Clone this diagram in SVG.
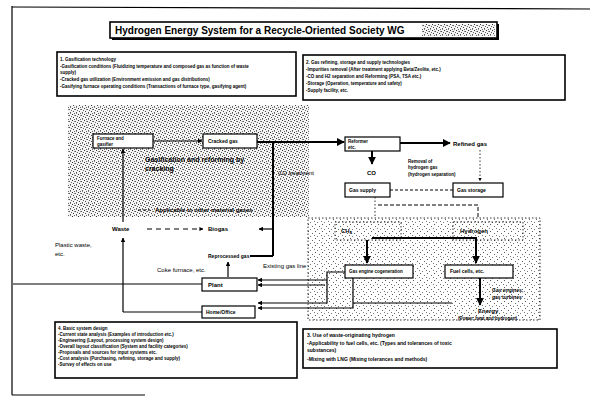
<svg xmlns="http://www.w3.org/2000/svg" width="596" height="397" viewBox="0 0 596 397">
<style>
text{font-family:"Liberation Sans",Arial,sans-serif;fill:#000}
.t45{font-size:4.5px;font-weight:bold}
.t5{font-size:5px;font-weight:bold}
.t6{font-size:6px}
.b{font-weight:bold}
.box{fill:#fff;stroke:#000;stroke-width:1.2}
.nb{fill:#fff;stroke:#000;stroke-width:1.6}
.ln{fill:none;stroke:#000;stroke-width:1.2}
.thk{fill:none;stroke:#000;stroke-width:2}
.dash{fill:none;stroke:#000;stroke-width:1;stroke-dasharray:5 4}
.dot{fill:none;stroke:#000;stroke-width:0.8;stroke-dasharray:1.5 2}
</style>
<defs>
<pattern id="st" width="6" height="6" patternUnits="userSpaceOnUse">
<rect width="6" height="6" fill="#f4f4f4"/>
<rect x="0" y="0" width="1" height="1" fill="#333"/>
<rect x="3" y="1" width="1" height="1" fill="#555"/>
<rect x="1" y="3" width="1" height="1" fill="#444"/>
<rect x="4" y="4" width="1" height="1" fill="#555"/>
<rect x="5" y="2" width="1" height="1" fill="#666"/>
<rect x="2" y="5" width="1" height="1" fill="#666"/>
<rect x="2" y="1" width="1" height="1" fill="#888"/>
<rect x="4" y="5" width="1" height="1" fill="#888"/>
</pattern>
<pattern id="st2" width="7" height="7" patternUnits="userSpaceOnUse">
<rect width="7" height="7" fill="#fff"/>
<rect x="0" y="0" width="1" height="1" fill="#555"/>
<rect x="4" y="2" width="1" height="1" fill="#666"/>
<rect x="2" y="5" width="1" height="1" fill="#777"/>
<rect x="6" y="4" width="1" height="1" fill="#777"/>
</pattern>
<marker id="ah" viewBox="0 0 10 10" refX="9" refY="5" markerWidth="4" markerHeight="4" orient="auto-start-reverse">
<path d="M0,0 L10,5 L0,10 z" fill="#000"/>
</marker>
</defs>
<rect width="596" height="397" fill="#fff"/>
<g id="frame">
<path d="M12,6 V395" class="ln"/>
<path d="M12,7 L590,9" class="ln"/>
<path d="M12,395 H145" class="ln"/>
</g>
<g id="title">
<rect x="112" y="24" width="387" height="16" fill="#000"/>
<rect x="110" y="22" width="387" height="16" class="nb"/>
<rect x="422" y="24" width="73" height="12" fill="url(#st)"/>
<text x="115" y="34" class="b" style="font-size:10px">Hydrogen Energy System for a Recycle-Oriented Society WG</text>
</g>
<g id="regions">
<rect x="68" y="105" width="241" height="112" fill="url(#st)"/>
<rect x="308" y="218" width="232" height="102" fill="url(#st2)" stroke="#000" stroke-width="0.8" stroke-dasharray="1.5 2"/>
<rect x="335" y="222" width="66" height="18" fill="#fff" class="dot"/>
<rect x="453" y="222" width="70" height="18" fill="#fff" class="dot"/>
</g>
<g id="box1">
<rect x="57" y="52" width="239" height="44" class="nb"/>
<text x="60" y="61" class="t45">1. Gasification technology</text>
<text x="60" y="68" class="t45">-Gasification conditions (Fluidizing temperature and composed gas as function of waste</text>
<text x="60" y="74" class="t45">supply)</text>
<text x="60" y="81" class="t45">-Cracked gas utilization (Environment emission and gas distributions)</text>
<text x="60" y="88" class="t45">-Gasifying furnace operating conditions (Transactions of furnace type, gasifying agent)</text>
</g>
<g id="box2">
<rect x="303" y="55" width="262" height="45" class="nb"/>
<text x="306" y="64" class="t45">2. Gas refining, storage and supply technologies</text>
<text x="306" y="71" class="t45">-Impurities removal (After treatment applying Beta/Zeolite, etc.)</text>
<text x="306" y="78" class="t45">-CO and H2 separation and Reforming (PSA, TSA etc.)</text>
<text x="306" y="85" class="t45">-Storage (Operation, temperature and safety)</text>
<text x="306" y="92" class="t45">-Supply facility, etc.</text>
</g>
<g id="furnace">
<rect x="93" y="134" width="60" height="14" class="box"/>
<text x="97" y="140" class="t45">Furnace and</text>
<text x="97" y="146" class="t45">gasifier</text>
</g>
<g id="cracked">
<rect x="203" y="134" width="54" height="14" class="box"/>
<text x="208" y="143" class="t5">Cracked gas</text>
</g>
<g id="labels1">
<text x="145" y="162" class="b" style="font-size:7px">Gasification and reforming by</text>
<text x="145" y="171" class="b" style="font-size:7px">cracking</text>
<path d="M138,210 H150" class="dash" style="stroke-dasharray:3 2"/>
<text x="155" y="212" class="t6 b">Applicable to other material gases</text>
<text x="112" y="231" class="t6 b">Waste</text>
<text x="208" y="231" class="t6 b">Biogas</text>
<text x="208" y="258" class="t5">Reprocessed gas</text>
<text x="55" y="247" class="t6">Plastic waste,</text>
<text x="55" y="256" class="t6">etc.</text>
<text x="157" y="272" class="t6">Coke furnace, etc.</text>
<text x="263" y="268" class="t6">Existing gas line</text>
</g>
<g id="plant">
<rect x="202" y="278" width="55" height="13" class="box"/>
<text x="208" y="287" class="t6 b">Plant</text>
</g>
<g id="home">
<rect x="202" y="306" width="53" height="12" class="box"/>
<text x="206" y="314" class="t5">Home/Office</text>
</g>
<g id="reformer">
<rect x="345" y="137" width="55" height="14" class="box"/>
<text x="348" y="143" class="t45">Reformer</text>
<text x="348" y="149" class="t45">etc.</text>
</g>
<g id="labels2">
<text x="453" y="146" class="t6 b">Refined gas</text>
<text x="278" y="175" class="t6">CO treatment</text>
<text x="367" y="175" class="t6 b">CO</text>
<text x="408" y="163" class="t45">Removal of</text>
<text x="408" y="169" class="t45">hydrogen gas</text>
<text x="408" y="176" class="t45">(hydrogen separation)</text>
</g>
<g id="gassupply">
<rect x="345" y="183" width="45" height="14" class="box"/>
<text x="349" y="192" class="t5">Gas supply</text>
</g>
<g id="gasstorage">
<rect x="453" y="183" width="50" height="14" class="box"/>
<text x="457" y="192" class="t5">Gas storage</text>
</g>
<g id="ch4">
<text x="341" y="233" class="t6 b">CH<tspan style="font-size:4px" dy="1">4</tspan></text>
</g>
<g id="hydrogen">
<text x="460" y="233" class="t6 b">Hydrogen</text>
</g>
<g id="gasengine">
<rect x="345" y="265" width="68" height="13" class="box"/>
<text x="349" y="273" class="t45">Gas engine cogeneration</text>
</g>
<g id="fuelcells">
<rect x="445" y="265" width="68" height="13" class="box"/>
<text x="450" y="273" class="t5">Fuel cells, etc.</text>
</g>
<g id="labels3">
<text x="492" y="292" class="t5">Gas engines,</text>
<text x="492" y="299" class="t5">gas turbines</text>
<text x="478" y="313" class="t6 b">Energy</text>
<text x="458" y="320" class="t45">(Power, heat and hydrogen)</text>
</g>
<g id="box3">
<rect x="303" y="329" width="254" height="39" class="nb"/>
<text x="307" y="337" class="t5">3. Use of waste-originating hydrogen</text>
<text x="307" y="345" class="t5">-Applicability to fuel cells, etc. (Types and tolerances of toxic</text>
<text x="307" y="352" class="t5">substances)</text>
<text x="307" y="361" class="t5">-Mixing with LNG (Mixing tolerances and methods)</text>
</g>
<g id="box4">
<rect x="55" y="322" width="242" height="56" class="nb"/>
<text x="58" y="330" class="t45">4. Basic system design</text>
<text x="58" y="336" class="t45">-Current state analysis (Examples of introduction etc.)</text>
<text x="58" y="342" class="t45">-Engineering (Layout, processing system design)</text>
<text x="58" y="348" class="t45">-Overall layout classification (System and facility categories)</text>
<text x="58" y="354" class="t45">-Proposals and sources for input systems etc.</text>
<text x="58" y="360" class="t45">-Cost analysis (Purchasing, refining, storage and supply)</text>
<text x="58" y="366" class="t45">-Survey of effects on use</text>
</g>
<g id="connectors">
<path d="M153,141 H202" class="ln" marker-end="url(#ah)"/>
<path d="M257,142 H344" class="thk" marker-end="url(#ah)"/>
<path d="M273,142 V256" class="thk"/>
<path d="M273,229 H259" class="ln" marker-end="url(#ah)"/>
<path d="M273,256 H250" class="thk"/>
<path d="M123,222 V149" class="ln" marker-end="url(#ah)"/>
<path d="M147,229 H203" class="dash" marker-end="url(#ah)"/>
<path d="M123,312 V238" class="ln" marker-end="url(#ah)"/>
<path d="M123,312 H202" class="ln"/>
<path d="M13,284 H202" class="ln"/>
<path d="M228,277 V262" class="ln" marker-end="url(#ah)"/>
<path d="M400,143 H450" class="thk" marker-end="url(#ah)"/>
<path d="M372,151 V164" class="thk" marker-end="url(#ah)"/>
<path d="M390,190 H453" class="dash" style="stroke-dasharray:3 2"/>
<path d="M480,150 V181" class="dot" marker-end="url(#ah)"/>
<path d="M375,197 V218" class="dot"/>
<path d="M378,205 H478 V218" class="dash" style="stroke-dasharray:4 2"/>
<path d="M367,240 V263" class="thk" marker-end="url(#ah)"/>
<path d="M372,238 H476 V263" class="thk" marker-end="url(#ah)"/>
<path d="M345,272 H327 V303 H258" class="ln" marker-end="url(#ah)"/>
<path d="M327,280 H258" class="ln" marker-end="url(#ah)"/>
<path d="M325,285 H258" class="ln" marker-end="url(#ah)"/>
<path d="M353,278 V308 H258" class="ln" marker-end="url(#ah)"/>
<path d="M353,303 H452" class="ln"/>
<path d="M480,278 V305" class="thk" marker-end="url(#ah)"/>
</g>
</svg>
